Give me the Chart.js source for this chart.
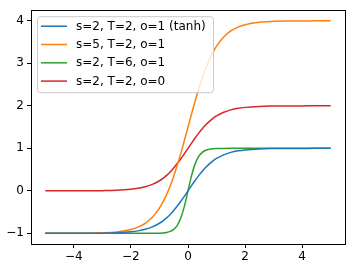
<!DOCTYPE html>
<html>
<head>
<meta charset="utf-8">
<script src="https://cdn.jsdelivr.net/npm/chart.js@4"></script>
<style>
  html, body { margin: 0; padding: 0; background: #fff; }
  #wrap { width: 354px; height: 268px; }
</style>
</head>
<body>
<div id="wrap"><canvas id="graphCanvas" width="354" height="268"></canvas></div>
<script>
// sample x positions and values
const xs = [-5, -4.5, -4, -3.5, -3, -2.5, -2, -1.75, -1.5, -1.25, -1, -0.875, -0.75, -0.625, -0.5, -0.375, -0.25, -0.125,
  0, 0.125, 0.25, 0.375, 0.5, 0.625, 0.75, 0.875, 1, 1.25, 1.5, 1.75, 2, 2.5, 3, 3.5, 4, 4.5, 5];

const blueY = [-1, -1, -0.999, -0.998, -0.995, -0.987, -0.964, -0.941, -0.905, -0.848, -0.762, -0.704, -0.635, -0.555, -0.462, -0.358, -0.245, -0.124,
  0, 0.124, 0.245, 0.358, 0.462, 0.555, 0.635, 0.704, 0.762, 0.848, 0.905, 0.941, 0.964, 0.987, 0.995, 0.998, 0.999, 1, 1];

const orangeY = [-1, -1, -0.997, -0.995, -0.988, -0.968, -0.91, -0.853, -0.763, -0.62, -0.405, -0.26, -0.088, 0.113, 0.345, 0.605, 0.888, 1.19,
  1.5, 1.81, 2.113, 2.395, 2.655, 2.888, 3.088, 3.26, 3.405, 3.62, 3.763, 3.853, 3.91, 3.968, 3.988, 3.995, 3.997, 4, 4];

const greenY = [-1, -1, -1, -1, -1, -1, -1, -1, -1, -0.999, -0.995, -0.99, -0.978, -0.954, -0.905, -0.81, -0.635, -0.358,
  0, 0.358, 0.635, 0.81, 0.905, 0.954, 0.978, 0.99, 0.995, 0.999, 1, 1, 1, 1, 1, 1, 1, 1, 1];

const redY = [0, 0, 0.001, 0.002, 0.005, 0.013, 0.036, 0.059, 0.095, 0.152, 0.238, 0.296, 0.365, 0.445, 0.538, 0.642, 0.755, 0.876,
  1, 1.124, 1.245, 1.358, 1.462, 1.555, 1.635, 1.704, 1.762, 1.848, 1.905, 1.941, 1.964, 1.987, 1.995, 1.998, 1.999, 2, 2];

const labels = ["s=2, T=2, o=1 (tanh)", "s=5, T=2, o=1", "s=2, T=6, o=1", "s=2, T=2, o=0"];
const colors = ["#1f77b4", "#ff7f0e", "#2ca02c", "#d62728"];
const xTicks = [-4, -2, 0, 2, 4];
const yTicks = [-1, 0, 1, 2, 3, 4];

const FONT = "DejaVu Sans";

const toPoints = (ys) => xs.map((x, i) => ({ x: x, y: ys[i] }));

const series = [blueY, orangeY, greenY, redY];

// legend box inside the axes, like matplotlib's upper left
const boxLegend = {
  id: "boxLegend",
  afterDatasetsDraw(chart) {
    const ctx = chart.ctx;
    const a = chart.chartArea;
    const x0 = a.left + 6, y0 = a.top + 6, w = 176, h = 76, r = 3;
    ctx.save();
    ctx.beginPath();
    ctx.roundRect(x0 + 0.5, y0 + 0.5, w, h, r);
    ctx.fillStyle = "rgba(255,255,255,0.8)";
    ctx.fill();
    ctx.strokeStyle = "#cccccc";
    ctx.lineWidth = 1;
    ctx.stroke();
    ctx.font = "12px '" + FONT + "'";
    ctx.textBaseline = "middle";
    ctx.fillStyle = "#000";
    labels.forEach((lab, i) => {
      const y = y0 + 10 + i * 18.3;
      ctx.beginPath();
      ctx.moveTo(x0 + 4, y);
      ctx.lineTo(x0 + 30, y);
      ctx.strokeStyle = colors[i];
      ctx.lineWidth = 1.5;
      ctx.stroke();
      ctx.fillText(lab, x0 + 39, y + 0.5);
    });
    ctx.restore();
  },
  afterDraw(chart) {
    // full frame around the axes
    const ctx = chart.ctx;
    const a = chart.chartArea;
    ctx.save();
    ctx.strokeStyle = "#000";
    ctx.lineWidth = 1;
    ctx.strokeRect(Math.round(a.left) + 0.5, Math.round(a.top) + 0.5, Math.round(a.right - a.left), Math.round(a.bottom - a.top));
    ctx.restore();
  },
};

new Chart(document.getElementById("graphCanvas").getContext("2d"), {
  type: "scatter",
  data: {
    datasets: series.map((ys, i) => ({
      label: labels[i],
      data: toPoints(ys),
      showLine: true,
      borderColor: colors[i],
      backgroundColor: colors[i],
      borderWidth: 1.5,
      pointRadius: 0,
      cubicInterpolationMode: "monotone",
    })),
  },
  options: {
    responsive: false,
    animation: false,
    devicePixelRatio: 1,
    layout: { padding: { left: 0, right: 9, top: 9, bottom: 0 } },
    plugins: { legend: { display: false }, tooltip: { enabled: false } },
    scales: {
      x: {
        type: "linear",
        min: -5.5,
        max: 5.5,
        afterBuildTicks: (s) => { s.ticks = xTicks.map((v) => ({ value: v })); },
        afterFit: (s) => { s.height = 24; },
        grid: { drawOnChartArea: false, drawTicks: true, tickLength: 4, color: "#000" },
        border: { display: false },
        ticks: {
          color: "#000",
          padding: 2,
          maxRotation: 0,
          font: { family: FONT, size: 12 },
          callback: (v) => String(v).replace("-", "\u2212"),
        },
      },
      y: {
        type: "linear",
        min: -1.25,
        max: 4.25,
        afterBuildTicks: (s) => { s.ticks = yTicks.map((v) => ({ value: v })); },
        afterFit: (s) => { s.width = 31; },
        grid: { drawOnChartArea: false, drawTicks: true, tickLength: 4, color: "#000" },
        border: { display: false },
        ticks: {
          color: "#000",
          padding: 3,
          font: { family: FONT, size: 12 },
          callback: (v) => String(v).replace("-", "\u2212"),
        },
      },
    },
  },
  plugins: [boxLegend],
});
</script>
</body>
</html>
